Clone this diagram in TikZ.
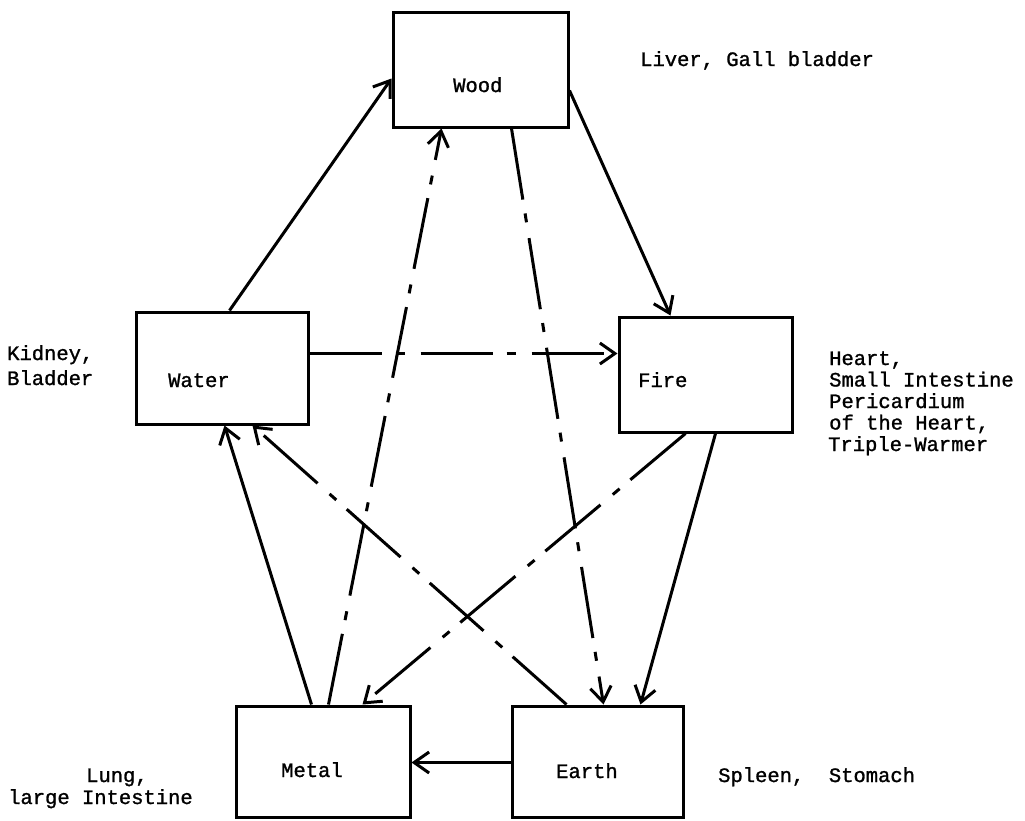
\documentclass[tikz,border=0pt]{standalone}
\usepackage{fontspec}
\setmonofont[FakeBold=1.2]{Liberation Mono}
\usetikzlibrary{arrows.meta}
\begin{document}
\begin{tikzpicture}[x=1pt,y=-1pt,
  element/.style={draw,line width=3pt,minimum width=#1,inner sep=0pt},
  txt/.style={font=\ttfamily\fontsize{20.5}{21.5}\selectfont,anchor=base west,inner sep=0pt},
  flow/.style={line width=3pt,-{Straight Barb[length=15pt,width=21pt,line width=3pt]}},
  ctrl/.style={flow,dash pattern=on 72pt off 14pt on 9pt off 16pt}
]
\useasboundingbox (0,0) rectangle (1025,820);

% element boxes
\node[element=175pt,minimum height=115pt] (wood)  at (480.5,69.5) {};
\node[element=172pt,minimum height=112pt] (water) at (222,368) {};
\node[element=173pt,minimum height=115pt] (fire)  at (705.5,374.5) {};
\node[element=174pt,minimum height=111pt] (metal) at (323,761.5) {};
\node[element=171pt,minimum height=111pt] (earth) at (597.5,761.5) {};

% box captions
\node[txt] (woodtxt)  at (453,92)  {Wood};
\node[txt] (watertxt) at (168,387) {Water};
\node[txt] (firetxt)  at (638,387) {Fire};
\node[txt] (metaltxt) at (281,777) {Metal};
\node[txt] (earthtxt) at (556,778) {Earth};

% organ labels
\node[txt] (liver)   at (640,66)  {Liver, Gall bladder};
\node[txt] (kidney1) at (7,360)   {Kidney,};
\node[txt] (kidney2) at (7,385)   {Bladder};
\node[txt] (heart1)  at (829,365) {Heart,};
\node[txt] (heart2)  at (829,386.5) {Small Intestine};
\node[txt] (heart3)  at (829,408) {Pericardium};
\node[txt] (heart4)  at (829,429.5) {of the Heart,};
\node[txt] (heart5)  at (828,451) {Triple-Warmer};
\node[txt] (lung1)   at (86,782)  {Lung,};
\node[txt] (lung2)   at (8,804)   {large Intestine};
\node[txt] (spleen)  at (718,782) {Spleen,\ \ Stomach};

% generating cycle (solid)
\draw[flow] ([xshift=95pt]water.north west) -- ([yshift=-68pt]wood.north west);
\draw[flow] ([yshift=-80pt]wood.north east) -- ([xshift=53pt]fire.north west);
\draw[flow] ([xshift=98pt]fire.south west) -- ([xshift=130pt]earth.north west);
\draw[flow] ([yshift=-58pt]earth.north west) -- ([yshift=-58pt]metal.north east);
\draw[flow] ([xshift=77pt]metal.north west) -- ([xshift=90pt]water.south west);

% controlling cycle (dashed)
\draw[ctrl] ([yshift=-43pt]water.north east) -- ([yshift=-38pt]fire.north west);
\draw[ctrl] ([xshift=120pt]wood.south west) -- ([xshift=93pt]earth.north west);
\draw[ctrl] ([xshift=56pt]earth.north west) -- ([xshift=118pt]water.south west);
\draw[ctrl] ([xshift=94pt]metal.north west) -- ([xshift=50pt]wood.south west);
\draw[ctrl] ([xshift=68pt]fire.south west) -- ([xshift=128pt]metal.north west);
\end{tikzpicture}
\end{document}
